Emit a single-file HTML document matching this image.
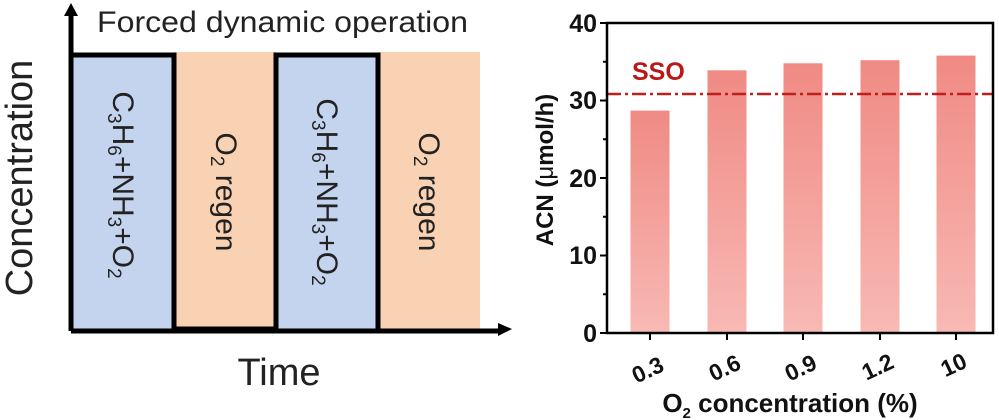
<!DOCTYPE html>
<html><head><meta charset="utf-8"><style>
html,body{margin:0;padding:0;background:#fff;width:999px;height:420px;overflow:hidden}
</style></head><body>
<svg width="999" height="420" viewBox="0 0 999 420" xmlns="http://www.w3.org/2000/svg" font-family="Liberation Sans, sans-serif">
<defs>
<linearGradient id="bg" x1="0" y1="0" x2="0" y2="1">
<stop offset="0" stop-color="#f08a84"/><stop offset="1" stop-color="#f8b9b4"/>
</linearGradient>
</defs>
<rect x="71" y="53" width="103" height="276" fill="#c5d4ee"/>
<rect x="174" y="52" width="102" height="277" fill="#f9d2b4"/>
<rect x="276" y="53" width="102" height="276" fill="#c5d4ee"/>
<rect x="378" y="52" width="102" height="277" fill="#f9d2b4"/>
<polyline points="71,55 174,55 174,329 276,329 276,55 378,55 378,329" fill="none" stroke="#000" stroke-width="5"/>
<line x1="71" y1="331" x2="500" y2="331" stroke="#000" stroke-width="5"/>
<polygon points="498,323 512,329 498,336" fill="#000"/>
<line x1="71" y1="14" x2="71" y2="331" stroke="#000" stroke-width="5"/>
<polygon points="64,16 71,3 78,16" fill="#000"/>
<text x="97" y="32" font-size="30" fill="#222" textLength="371" lengthAdjust="spacingAndGlyphs">Forced dynamic operation</text>
<text transform="translate(32,178) rotate(-90)" font-size="38" fill="#222" text-anchor="middle">Concentration</text>
<text x="279" y="385" font-size="38" fill="#222" text-anchor="middle">Time</text>
<g font-size="30" fill="#222">
<text transform="translate(113,185) rotate(90)" text-anchor="middle">C<tspan font-size="19" dy="5">3</tspan><tspan dy="-5">H</tspan><tspan font-size="19" dy="5">6</tspan><tspan dy="-5">+NH</tspan><tspan font-size="19" dy="5">3</tspan><tspan dy="-5">+O</tspan><tspan font-size="19" dy="5">2</tspan></text>
<text transform="translate(317,192) rotate(90)" text-anchor="middle">C<tspan font-size="19" dy="5">3</tspan><tspan dy="-5">H</tspan><tspan font-size="19" dy="5">6</tspan><tspan dy="-5">+NH</tspan><tspan font-size="19" dy="5">3</tspan><tspan dy="-5">+O</tspan><tspan font-size="19" dy="5">2</tspan></text>
<text transform="translate(216,192) rotate(90)" text-anchor="middle">O<tspan font-size="19" dy="5">2</tspan><tspan dy="-5"> regen</tspan></text>
<text transform="translate(419,192) rotate(90)" text-anchor="middle">O<tspan font-size="19" dy="5">2</tspan><tspan dy="-5"> regen</tspan></text>
</g>
<rect x="630.5" y="110.6" width="39" height="222.4" fill="url(#bg)"/>
<rect x="707.5" y="70.3" width="39" height="262.7" fill="url(#bg)"/>
<rect x="783.5" y="63.3" width="39" height="269.7" fill="url(#bg)"/>
<rect x="860.5" y="60.2" width="39" height="272.8" fill="url(#bg)"/>
<rect x="936.5" y="55.6" width="39" height="277.4" fill="url(#bg)"/>
<line x1="607" y1="94" x2="993" y2="94" stroke="#c0201c" stroke-width="2.5" stroke-dasharray="14,4,3,4"/>
<text x="632" y="80" font-size="25" font-weight="bold" fill="#b81a1a">SSO</text>
<rect x="607" y="23" width="386" height="310" fill="none" stroke="#000" stroke-width="2.5"/>
<g stroke="#000" stroke-width="2">
<line x1="607" y1="23" x2="600" y2="23"/><line x1="607" y1="100.5" x2="600" y2="100.5"/><line x1="607" y1="178" x2="600" y2="178"/><line x1="607" y1="255.5" x2="600" y2="255.5"/><line x1="607" y1="333" x2="600" y2="333"/>
<line x1="607" y1="61.75" x2="603" y2="61.75"/><line x1="607" y1="139.25" x2="603" y2="139.25"/><line x1="607" y1="216.75" x2="603" y2="216.75"/><line x1="607" y1="294.25" x2="603" y2="294.25"/>
<line x1="650" y1="333" x2="650" y2="340"/><line x1="727" y1="333" x2="727" y2="340"/><line x1="803" y1="333" x2="803" y2="340"/><line x1="880" y1="333" x2="880" y2="340"/><line x1="956" y1="333" x2="956" y2="340"/>
</g>
<g font-size="25" font-weight="bold" fill="#111" text-anchor="end">
<text x="597" y="32">40</text><text x="597" y="109">30</text><text x="597" y="187">20</text><text x="597" y="264">10</text><text x="597" y="342">0</text>
</g>
<g font-size="23" font-weight="bold" fill="#111" text-anchor="middle">
<text transform="translate(651,377) rotate(-25)">0.3</text>
<text transform="translate(728,375) rotate(-25)">0.6</text>
<text transform="translate(804,375) rotate(-25)">0.9</text>
<text transform="translate(881,374) rotate(-25)">1.2</text>
<text transform="translate(957,372) rotate(-25)">10</text>
</g>
<text transform="translate(553,170) rotate(-90)" font-size="24" font-weight="bold" fill="#111" text-anchor="middle">ACN (<tspan font-weight="normal">μ</tspan>mol/h)</text>
<text x="790" y="412" font-size="26" font-weight="bold" fill="#111" text-anchor="middle">O<tspan font-size="15" dy="6">2</tspan><tspan dy="-6"> concentration (%)</tspan></text>
</svg>
</body></html>
